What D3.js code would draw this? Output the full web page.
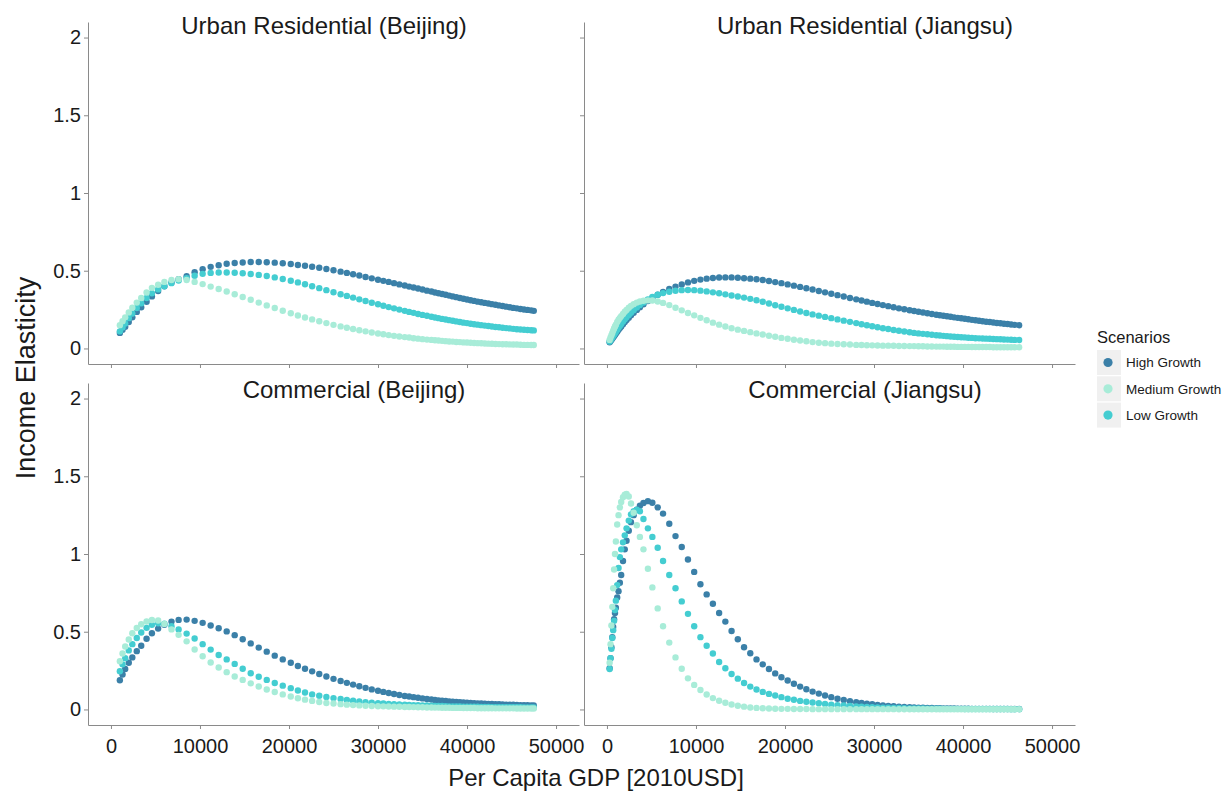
<!DOCTYPE html>
<html>
<head>
<meta charset="utf-8">
<script src="https://cdn.jsdelivr.net/npm/d3@7"></script>
<style>
  html, body { margin: 0; padding: 0; background: #ffffff; }
  svg { display: block; font-family: "Liberation Sans", Arial, Helvetica, sans-serif; }
</style>
</head>
<body>
<svg id="chart" width="1228" height="794"></svg>
<script>
// ---------- data ----------
const scenarios = ["High Growth", "Medium Growth", "Low Growth"];
const panelTitles = [
  "Urban Residential (Beijing)", "Urban Residential (Jiangsu)",
  "Commercial (Beijing)", "Commercial (Jiangsu)"
];
const xTickValues = [0, 10000, 20000, 30000, 40000, 50000];
const xTickLabels = ["0", "10000", "20000", "30000", "40000", "50000"];
const yTickValues = [0, 0.5, 1, 1.5, 2];
const yTickLabels = ["0", "0.5", "1", "1.5", "2"];

// per capita GDP (2010 USD) at each projected point
const gdpBeijing = [1000,1300,1600,2000,2400,2900,3400,4000,4600,5300,
  6000,6800,7600,8500,9400,10300,11200,12100,13000,13900,
  14800,15700,16600,17500,18400,19300,20200,21000,21800,22600,
  23400,24200,25000,25800,26500,27200,27900,28600,29300,30000,
  30600,31200,31800,32400,33000,33500,34000,34500,35000,35500,
  36000,36400,36800,37200,37600,38000,38400,38800,39200,39600,
  40000,40400,40800,41200,41600,42000,42400,42800,43200,43600,
  44000,44400,44800,45200,45600,46000,46400,46800,47200,47500];

const gdpJiangsu = [300,400,500,600,700,800,900,1000,1150,1300,
  1450,1600,1800,2000,2200,2450,2700,3000,3350,3700,
  4100,4600,5100,5700,6300,7000,7700,8400,9100,9800,
  10500,11200,11900,12600,13300,14000,14700,15400,16100,16800,
  17500,18200,18900,19600,20300,21000,21700,22400,23100,23800,
  24500,25200,25900,26600,27300,28000,28600,29200,29800,30400,
  31000,31600,32200,32800,33400,34000,34500,35000,35500,36000,
  36500,37000,37400,37800,38200,38600,39000,39400,39800,40200,
  40600,41000,41400,41800,42200,42600,43000,43400,43800,44200,
  44600,45000,45400,45800,46300];

// income elasticity, urban residential, Beijing
const resBeijingHigh = [0.100,0.120,0.140,0.170,0.200,0.235,0.265,0.300,0.335,0.370,
  0.400,0.425,0.445,0.465,0.490,0.510,0.525,0.535,0.545,0.550,
  0.553,0.556,0.556,0.555,0.552,0.548,0.543,0.537,0.532,0.526,
  0.519,0.511,0.503,0.494,0.486,0.477,0.469,0.460,0.451,0.442,
  0.435,0.428,0.420,0.412,0.405,0.398,0.392,0.386,0.379,0.372,
  0.366,0.360,0.355,0.350,0.345,0.340,0.335,0.330,0.325,0.320,
  0.315,0.310,0.306,0.301,0.297,0.293,0.289,0.285,0.281,0.277,
  0.273,0.269,0.265,0.261,0.258,0.254,0.251,0.248,0.245,0.242];
const resBeijingMedium = [0.150,0.175,0.200,0.232,0.262,0.295,0.325,0.360,0.390,0.410,
  0.428,0.440,0.445,0.440,0.428,0.414,0.398,0.382,0.366,0.349,
  0.331,0.313,0.295,0.277,0.260,0.243,0.226,0.212,0.199,0.187,
  0.175,0.163,0.152,0.142,0.133,0.125,0.117,0.110,0.103,0.096,
  0.091,0.086,0.081,0.077,0.073,0.070,0.066,0.063,0.060,0.057,
  0.055,0.053,0.051,0.049,0.047,0.045,0.044,0.042,0.041,0.039,
  0.038,0.037,0.035,0.034,0.033,0.032,0.031,0.030,0.029,0.028,
  0.027,0.027,0.026,0.025,0.025,0.024,0.023,0.023,0.022,0.022];
const resBeijingLow = [0.110,0.135,0.160,0.195,0.225,0.260,0.290,0.325,0.355,0.380,
  0.400,0.420,0.437,0.452,0.468,0.480,0.486,0.489,0.489,0.487,
  0.484,0.479,0.473,0.466,0.457,0.447,0.436,0.425,0.413,0.400,
  0.388,0.375,0.362,0.349,0.338,0.327,0.316,0.305,0.294,0.284,
  0.275,0.266,0.258,0.250,0.242,0.235,0.229,0.222,0.216,0.210,
  0.204,0.199,0.195,0.190,0.186,0.182,0.178,0.174,0.170,0.166,
  0.163,0.159,0.156,0.153,0.150,0.147,0.144,0.141,0.138,0.136,
  0.133,0.131,0.129,0.126,0.124,0.122,0.120,0.119,0.117,0.116];

// income elasticity, urban residential, Jiangsu
const resJiangsuHigh = [0.040,0.048,0.056,0.064,0.072,0.080,0.088,0.096,0.108,0.120,
  0.131,0.142,0.156,0.170,0.183,0.198,0.213,0.230,0.248,0.265,
  0.284,0.305,0.325,0.345,0.363,0.382,0.398,0.412,0.425,0.435,
  0.443,0.449,0.453,0.456,0.457,0.457,0.455,0.452,0.449,0.445,
  0.440,0.434,0.427,0.420,0.412,0.404,0.396,0.387,0.379,0.370,
  0.361,0.352,0.343,0.334,0.325,0.316,0.308,0.301,0.293,0.286,
  0.279,0.272,0.265,0.258,0.252,0.246,0.241,0.236,0.231,0.226,
  0.222,0.217,0.214,0.210,0.207,0.204,0.200,0.197,0.194,0.191,
  0.188,0.184,0.181,0.178,0.175,0.172,0.170,0.167,0.164,0.162,
  0.159,0.157,0.154,0.152,0.149];
const resJiangsuMedium = [0.055,0.070,0.085,0.100,0.115,0.128,0.141,0.153,0.170,0.185,
  0.197,0.208,0.222,0.236,0.248,0.262,0.274,0.285,0.295,0.302,
  0.307,0.309,0.308,0.302,0.293,0.279,0.262,0.245,0.228,0.213,
  0.197,0.181,0.166,0.153,0.141,0.130,0.121,0.113,0.105,0.097,
  0.090,0.082,0.075,0.068,0.062,0.056,0.051,0.046,0.041,0.037,
  0.034,0.031,0.029,0.027,0.025,0.023,0.022,0.021,0.020,0.019,
  0.018,0.018,0.017,0.016,0.016,0.015,0.015,0.014,0.014,0.013,
  0.013,0.012,0.012,0.012,0.011,0.011,0.011,0.010,0.010,0.010,
  0.010,0.009,0.009,0.009,0.009,0.009,0.009,0.008,0.008,0.008,
  0.008,0.008,0.008,0.008,0.008];
const resJiangsuLow = [0.045,0.054,0.063,0.072,0.081,0.090,0.099,0.108,0.121,0.134,
  0.146,0.158,0.173,0.188,0.201,0.216,0.230,0.246,0.263,0.279,
  0.296,0.315,0.331,0.345,0.356,0.365,0.371,0.375,0.376,0.375,
  0.372,0.367,0.361,0.355,0.348,0.341,0.334,0.327,0.319,0.310,
  0.300,0.289,0.278,0.268,0.258,0.248,0.238,0.228,0.219,0.211,
  0.203,0.195,0.187,0.179,0.171,0.163,0.156,0.149,0.143,0.136,
  0.130,0.125,0.119,0.114,0.109,0.104,0.100,0.097,0.094,0.091,
  0.088,0.085,0.083,0.081,0.079,0.077,0.075,0.074,0.072,0.071,
  0.069,0.068,0.066,0.065,0.064,0.063,0.062,0.061,0.060,0.059,
  0.058,0.057,0.056,0.055,0.054];

// income elasticity, commercial, Beijing
const comBeijingHigh = [0.188,0.225,0.260,0.300,0.335,0.375,0.410,0.455,0.490,0.520,
  0.545,0.565,0.576,0.578,0.570,0.557,0.540,0.522,0.502,0.478,
  0.452,0.425,0.398,0.372,0.346,0.322,0.300,0.280,0.262,0.245,
  0.228,0.212,0.197,0.183,0.171,0.160,0.149,0.139,0.129,0.120,
  0.113,0.106,0.099,0.093,0.087,0.083,0.079,0.075,0.071,0.067,
  0.064,0.061,0.058,0.056,0.054,0.052,0.050,0.048,0.046,0.045,
  0.043,0.042,0.040,0.039,0.038,0.037,0.036,0.035,0.034,0.033,
  0.032,0.031,0.030,0.030,0.029,0.028,0.028,0.027,0.026,0.026];
const comBeijingMedium = [0.310,0.360,0.405,0.450,0.490,0.524,0.548,0.566,0.575,0.572,
  0.550,0.515,0.480,0.438,0.386,0.342,0.302,0.270,0.240,0.212,
  0.190,0.168,0.148,0.128,0.112,0.097,0.083,0.072,0.063,0.055,
  0.048,0.042,0.038,0.034,0.031,0.028,0.026,0.024,0.022,0.021,
  0.020,0.019,0.018,0.017,0.016,0.016,0.015,0.014,0.014,0.013,
  0.013,0.012,0.012,0.011,0.011,0.011,0.010,0.010,0.010,0.009,
  0.009,0.009,0.009,0.008,0.008,0.008,0.008,0.008,0.007,0.007,
  0.007,0.007,0.007,0.007,0.006,0.006,0.006,0.006,0.006,0.006];
const comBeijingLow = [0.246,0.290,0.330,0.380,0.420,0.460,0.495,0.525,0.545,0.555,
  0.552,0.535,0.515,0.488,0.456,0.420,0.385,0.350,0.322,0.293,
  0.262,0.233,0.210,0.190,0.170,0.153,0.137,0.122,0.109,0.097,
  0.088,0.080,0.073,0.067,0.061,0.056,0.051,0.047,0.044,0.041,
  0.038,0.036,0.034,0.032,0.031,0.029,0.028,0.027,0.026,0.025,
  0.024,0.023,0.022,0.022,0.021,0.020,0.020,0.019,0.019,0.018,
  0.018,0.017,0.017,0.017,0.016,0.016,0.016,0.015,0.015,0.015,
  0.015,0.014,0.014,0.014,0.014,0.014,0.013,0.013,0.013,0.013];

// income elasticity, commercial, Jiangsu
const comJiangsuHigh = [0.265,0.330,0.400,0.465,0.530,0.580,0.620,0.655,0.720,0.760,
  0.815,0.865,0.955,1.030,1.085,1.150,1.205,1.250,1.285,1.310,
  1.328,1.340,1.330,1.300,1.260,1.195,1.115,1.045,0.965,0.885,
  0.805,0.740,0.680,0.620,0.565,0.505,0.452,0.400,0.362,0.322,
  0.290,0.260,0.232,0.207,0.186,0.165,0.147,0.130,0.115,0.102,
  0.090,0.079,0.069,0.061,0.053,0.047,0.042,0.037,0.033,0.029,
  0.026,0.023,0.021,0.018,0.016,0.015,0.013,0.012,0.011,0.010,
  0.009,0.008,0.008,0.007,0.007,0.006,0.006,0.005,0.005,0.005,
  0.005,0.004,0.004,0.004,0.004,0.004,0.004,0.003,0.003,0.003,
  0.003,0.003,0.003,0.003,0.003];
const comJiangsuMedium = [0.300,0.420,0.540,0.660,0.780,0.900,1.000,1.080,1.190,1.250,
  1.300,1.335,1.365,1.382,1.386,1.370,1.325,1.265,1.185,1.110,
  1.030,0.905,0.785,0.650,0.535,0.430,0.335,0.262,0.200,0.158,
  0.125,0.096,0.073,0.056,0.043,0.032,0.024,0.018,0.013,0.010,
  0.008,0.006,0.005,0.004,0.004,0.003,0.003,0.003,0.002,0.002,
  0.002,0.002,0.002,0.002,0.002,0.002,0.002,0.002,0.002,0.002,
  0.002,0.002,0.002,0.001,0.001,0.001,0.001,0.001,0.001,0.001,
  0.001,0.001,0.001,0.001,0.001,0.001,0.001,0.001,0.001,0.001,
  0.001,0.001,0.001,0.001,0.001,0.001,0.001,0.001,0.001,0.001,
  0.001,0.001,0.001,0.001,0.001];
const comJiangsuLow = [0.260,0.330,0.390,0.460,0.510,0.570,0.640,0.700,0.800,0.910,
  0.980,1.030,1.075,1.120,1.165,1.215,1.255,1.275,1.285,1.275,
  1.225,1.165,1.110,1.040,0.955,0.865,0.780,0.695,0.615,0.535,
  0.465,0.410,0.360,0.305,0.265,0.228,0.198,0.170,0.147,0.128,
  0.113,0.100,0.090,0.079,0.069,0.062,0.055,0.050,0.045,0.040,
  0.035,0.031,0.028,0.025,0.022,0.020,0.018,0.016,0.014,0.013,
  0.012,0.011,0.010,0.009,0.008,0.007,0.007,0.006,0.006,0.005,
  0.005,0.005,0.005,0.004,0.004,0.004,0.004,0.004,0.004,0.003,
  0.003,0.003,0.003,0.003,0.003,0.003,0.003,0.003,0.003,0.003,
  0.003,0.003,0.002,0.002,0.002];

// ---------- layout ----------
const svg = d3.select("#chart");
const PW = 491, PH = 342;            // panel size
const colX = [88, 584];              // panel left edges
const rowY = [22, 383];              // panel top edges
const FONT = '"Liberation Sans", Arial, Helvetica, sans-serif';
const INK = "#1a1a1a";
const AXIS = "#8a8a8a";

const x = d3.scaleLinear().domain([-2580, 52580]).range([0, PW]);
const y = d3.scaleLinear().domain([-0.1, 2.1]).range([PH, 0]);
const color = d3.scaleOrdinal().domain(scenarios)
  .range(["#3b80a8", "#a8ecd8", "#44cdd1"]);

const panels = [
  { title: panelTitles[0], col: 0, row: 0, titleX: 324, gdp: gdpBeijing,
    values: [resBeijingHigh, resBeijingMedium, resBeijingLow] },
  { title: panelTitles[1], col: 1, row: 0, titleX: 865, gdp: gdpJiangsu,
    values: [resJiangsuHigh, resJiangsuMedium, resJiangsuLow] },
  { title: panelTitles[2], col: 0, row: 1, titleX: 354, gdp: gdpBeijing,
    values: [comBeijingHigh, comBeijingMedium, comBeijingLow] },
  { title: panelTitles[3], col: 1, row: 1, titleX: 865, gdp: gdpJiangsu,
    values: [comJiangsuHigh, comJiangsuMedium, comJiangsuLow] }
];

// drawing order of the scenarios (later ones sit on top)
const drawOrder = [0, 2, 1];

function styleAxis(g) {
  g.attr("font-family", FONT).attr("font-size", 20);
  g.select(".domain").attr("stroke", AXIS).attr("stroke-width", 1);
  g.selectAll(".tick line").attr("stroke", AXIS).attr("stroke-width", 1);
  g.selectAll(".tick text").attr("fill", INK);
}

panels.forEach(p => {
  const g = svg.append("g")
    .attr("transform", `translate(${colX[p.col]},${rowY[p.row]})`);

  // points
  drawOrder.forEach(si => {
    const pts = p.gdp.map((v, i) => ({ gdp: v, e: p.values[si][i] }));
    g.append("g")
      .attr("fill", color(scenarios[si]))
      .selectAll("circle")
      .data(pts)
      .join("circle")
      .attr("cx", d => x(d.gdp))
      .attr("cy", d => y(d.e))
      .attr("r", 3.2);
  });

  // x axis
  const xa = d3.axisBottom(x)
    .tickValues(xTickValues)
    .tickSize(4).tickSizeOuter(0).tickPadding(10)
    .tickFormat((d, i) => p.row === 1 ? xTickLabels[i] : "");
  g.append("g").attr("transform", `translate(0,${PH})`).call(xa).call(styleAxis);

  // y axis
  const ya = d3.axisLeft(y)
    .tickValues(yTickValues)
    .tickSize(4).tickSizeOuter(0).tickPadding(3)
    .tickFormat((d, i) => p.col === 0 ? yTickLabels[i] : "");
  g.append("g").call(ya).call(styleAxis);

  // facet title
  svg.append("text")
    .attr("x", p.titleX)
    .attr("y", rowY[p.row] + (p.row === 0 ? 11.5 : 15))
    .attr("text-anchor", "middle")
    .attr("font-family", FONT)
    .attr("font-size", 24)
    .attr("fill", INK)
    .text(p.title);
});

// axis titles
svg.append("text")
  .attr("x", 596).attr("y", 786)
  .attr("text-anchor", "middle")
  .attr("font-family", FONT).attr("font-size", 24).attr("fill", INK)
  .text("Per Capita GDP [2010USD]");

svg.append("text")
  .attr("transform", "translate(35,378) rotate(-90)")
  .attr("text-anchor", "middle")
  .attr("font-family", FONT).attr("font-size", 27).attr("fill", INK)
  .text("Income Elasticity");

// legend
const lg = svg.append("g").attr("transform", "translate(1097,330)");
lg.append("text")
  .attr("x", 0).attr("y", 12.5)
  .attr("font-family", FONT).attr("font-size", 16.5).attr("fill", INK)
  .text("Scenarios");
scenarios.forEach((s, i) => {
  const row = lg.append("g").attr("transform", `translate(0,${20 + i * 26.3})`);
  row.append("rect").attr("width", 24).attr("height", 25).attr("fill", "#f0f0f0");
  row.append("circle").attr("cx", 11).attr("cy", 12.5).attr("r", 4.6)
    .attr("fill", color(s));
  row.append("text")
    .attr("x", 29).attr("y", 12.5).attr("dy", "0.35em")
    .attr("font-family", FONT).attr("font-size", 13.5).attr("fill", INK)
    .text(s);
});
</script>
</body>
</html>
